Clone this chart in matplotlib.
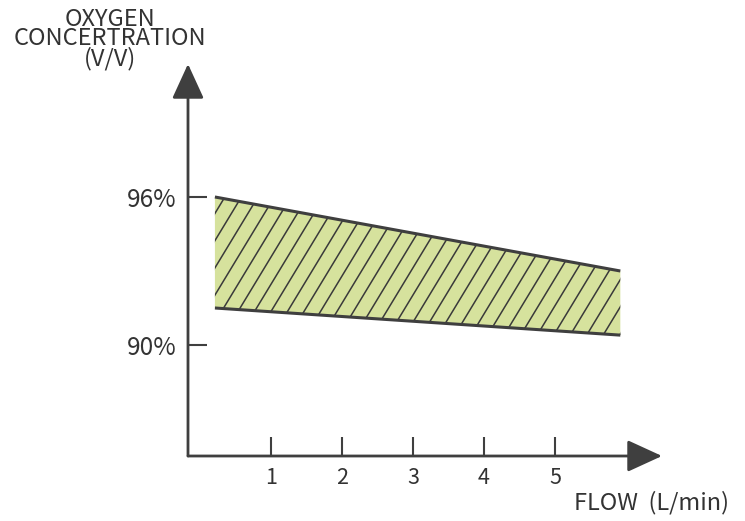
import matplotlib
matplotlib.use("Agg")
import matplotlib.pyplot as plt
import numpy as np

plt.rcParams['font.family'] = ['Noto Sans CJK SC', 'DejaVu Sans']

# data
flow = [0.21, 5.92]
upper = [96.0, 93.0]
lower = [91.5, 90.4]
x_ticks = [1, 2, 3, 4, 5]
y_ticks = [90, 96]
y_tick_labels = ['90%', '96%']

dark = '#3f3f3f'
txt = '#333333'

fig = plt.figure(figsize=(7.45, 5.21), dpi=100)
W, H = 745, 521
ax = fig.add_axes([188 / W, (H - 456) / H, (662 - 188) / W, (456 - 64) / H])
x0, x1 = -0.169, (662 - 200) / 71
y0, y1 = 85.5, 96 + (197 - 64) / 24.67
ax.set_xlim(x0, x1)
ax.set_ylim(y0, y1)
for s in ax.spines.values():
    s.set_visible(False)

# band
band = ax.fill_between(flow, lower, upper, facecolor='#d6e29d', linewidth=0)

# steep hatch lines clipped to the band
sx = (662 - 188) / (x1 - x0)   # px per x unit
sy = (456 - 64) / (y1 - y0)    # px per y unit
steep = 1.65
gap = 16.5 / sx
for xc in np.arange(flow[0] - 3, flow[1] + 1, gap):
    ln, = ax.plot([xc, xc + (y1 - y0) * sy / (steep * sx)], [y0, y1],
                  color='#3a3a3a', lw=1.1)
    ln.set_clip_path(band.get_paths()[0], ax.transData)

ax.plot(flow, upper, color=dark, lw=2.2, solid_capstyle='butt')
ax.plot(flow, lower, color=dark, lw=2.2, solid_capstyle='butt')

# axes with arrows
ax.annotate('', xy=(x1, y0), xytext=(x0, y0), annotation_clip=False,
            arrowprops=dict(arrowstyle='-|>,head_length=1.2,head_width=0.55',
                            color=dark, lw=2, mutation_scale=18, shrinkA=0, shrinkB=0))
ax.annotate('', xy=(x0, y1), xytext=(x0, y0), annotation_clip=False,
            arrowprops=dict(arrowstyle='-|>,head_length=1.2,head_width=0.55',
                            color=dark, lw=2, mutation_scale=18, shrinkA=0, shrinkB=0))

ax.set_xticks(x_ticks)
ax.set_xticklabels([str(t) for t in x_ticks])
ax.set_yticks(y_ticks)
ax.set_yticklabels(y_tick_labels)
ax.tick_params(axis='x', direction='in', length=14, width=1.5, color=dark,
               labelsize=15.5, labelcolor=txt, pad=8)
ax.tick_params(axis='y', direction='in', length=14, width=1.5, color=dark,
               labelsize=17.5, labelcolor=txt, pad=8)
for lab in ax.get_xticklabels() + ax.get_yticklabels():
    lab.set_fontweight('light')

fig.text(110 / W, 1 - 39 / H, 'OXYGEN\nCONCERTRATION\n(V/V)', ha='center', va='center',
         fontsize=17, color=txt, linespacing=0.8, fontweight='light')
fig.text(729 / W, 1 - 503 / H, 'FLOW  (L/min)', ha='right', va='center',
         fontsize=17, color=txt, fontweight='light')

fig.savefig('out.png', dpi=100)
